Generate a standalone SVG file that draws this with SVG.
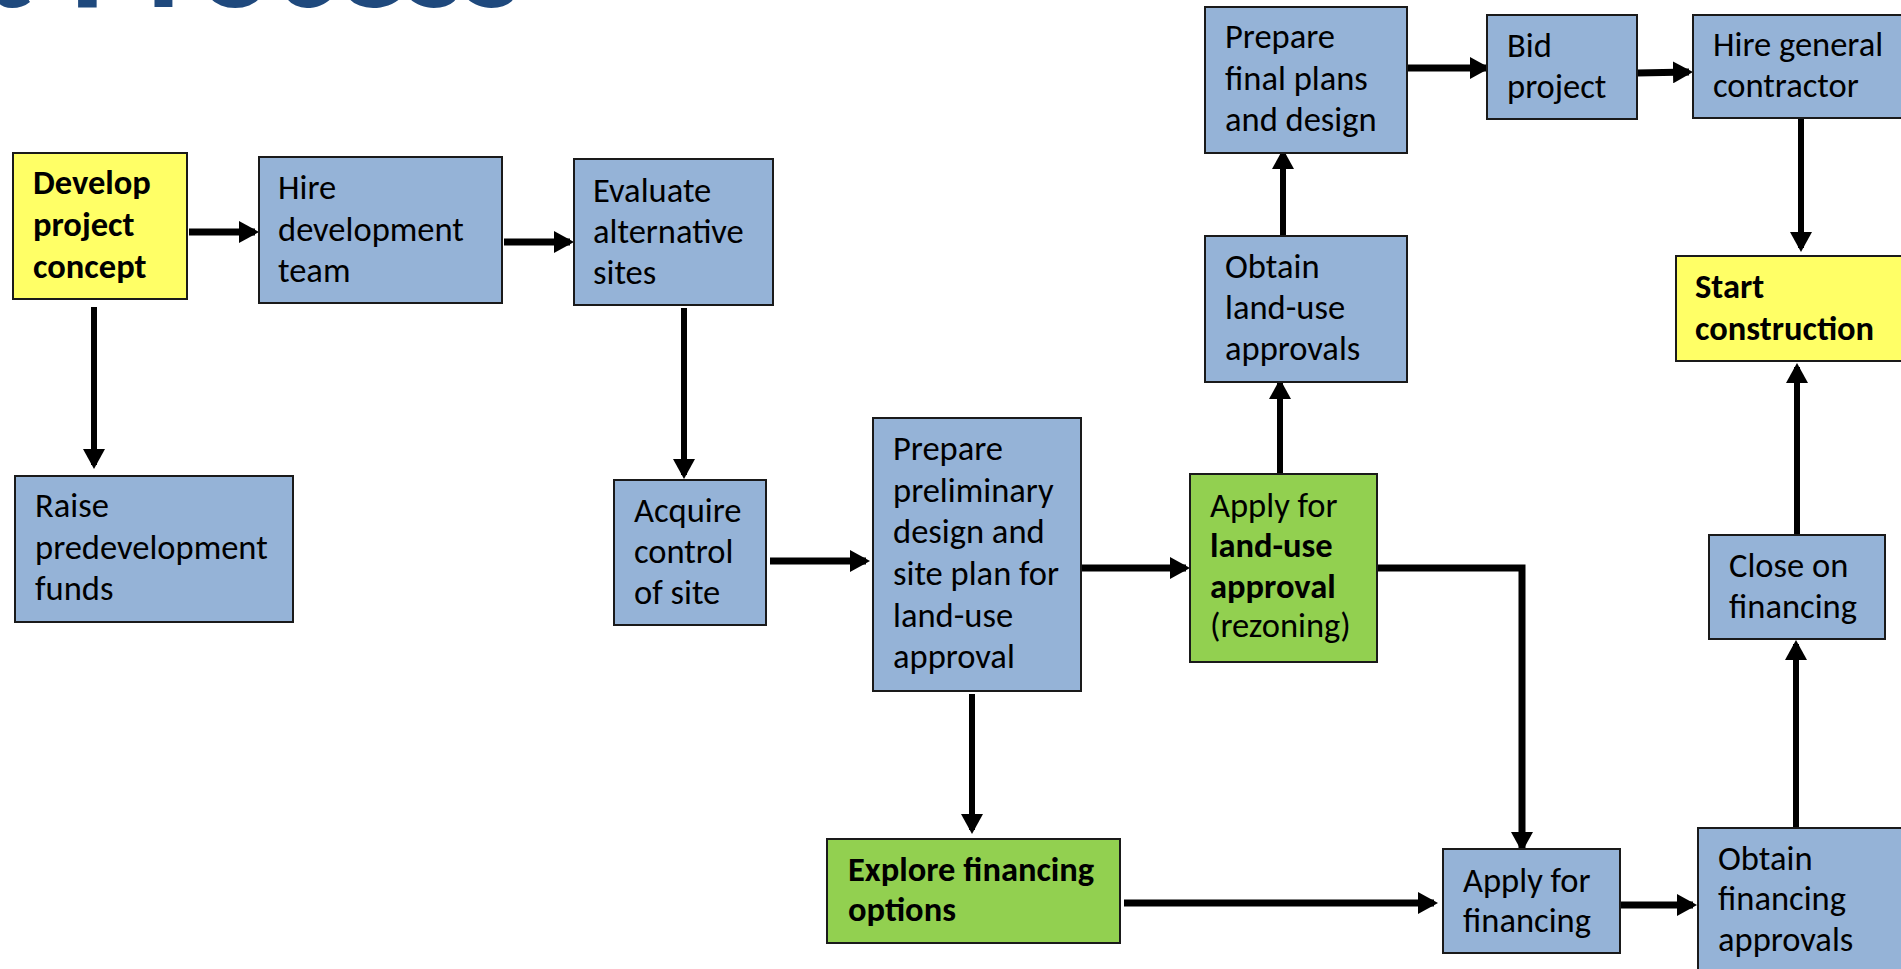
<svg xmlns="http://www.w3.org/2000/svg" width="1901" height="969" viewBox="0 0 1901 969">
<defs>
<style>
.box{stroke:#1a1a1a;stroke-width:2}
.blue{fill:#95B3D7}
.yellow{fill:#FFFF66}
.green{fill:#92D050}
.t{font-family:Carlito,Calibri,Lato,"Liberation Sans",sans-serif;font-size:34.5px;fill:#000}
.b{font-weight:bold}
.c{fill:none;stroke:#000;stroke-width:7}
.v{stroke-width:6}
.title{font-family:Carlito,Calibri,Lato,"Liberation Sans",sans-serif;font-size:143px;font-weight:bold;fill:#1F497D}
</style>
<marker id="ah" markerUnits="userSpaceOnUse" markerWidth="20" markerHeight="22" refX="16" refY="11" orient="auto">
<path d="M0,0 L20,11 L0,22 z" fill="#000"/>
</marker>
</defs>
<rect width="1901" height="969" fill="#fff"/>
<text class="title" x="32" y="7" text-anchor="end">Development</text>
<text class="title" x="70" y="7" textLength="452" lengthAdjust="spacingAndGlyphs">Process</text>

<g id="connectors">
<path class="c" d="M189,232 H255" marker-end="url(#ah)"/>
<path class="c" d="M504,242 H570" marker-end="url(#ah)"/>
<path class="c v" d="M94,307 V465" marker-end="url(#ah)"/>
<path class="c v" d="M684,308 V475" marker-end="url(#ah)"/>
<path class="c" d="M770,561 H866" marker-end="url(#ah)"/>
<path class="c" d="M1081,568 H1186" marker-end="url(#ah)"/>
<path class="c" d="M1377,568 H1522 V848" marker-end="url(#ah)"/>
<path class="c v" d="M1280,474 V383" marker-end="url(#ah)"/>
<path class="c v" d="M1283,243 V153" marker-end="url(#ah)"/>
<path class="c" d="M1388,68 H1486" marker-end="url(#ah)"/>
<path class="c" d="M1637,73 L1689,72" marker-end="url(#ah)"/>
<path class="c v" d="M1801,119 V248" marker-end="url(#ah)"/>
<path class="c v" d="M1797,535 V367" marker-end="url(#ah)"/>
<path class="c v" d="M1796,830 V644" marker-end="url(#ah)"/>
<path class="c v" d="M972,694 V830" marker-end="url(#ah)"/>
<path class="c" d="M1124,903 H1434" marker-end="url(#ah)"/>
<path class="c" d="M1620,905 H1693" marker-end="url(#ah)"/>
</g>

<g id="develop">
<rect class="box yellow" x="13" y="153" width="174" height="146"/>
<text class="t b" x="33"><tspan x="33" y="194">Develop</tspan><tspan x="33" y="236">project</tspan><tspan x="33" y="278">concept</tspan></text>
</g>
<g id="hire-team">
<rect class="box blue" x="259" y="157" width="243" height="146"/>
<text class="t"><tspan x="278" y="199">Hire</tspan><tspan x="278" y="241">development</tspan><tspan x="278" y="282">team</tspan></text>
</g>
<g id="evaluate">
<rect class="box blue" x="574" y="159" width="199" height="146"/>
<text class="t"><tspan x="593" y="202">Evaluate</tspan><tspan x="593" y="243">alternative</tspan><tspan x="593" y="284">sites</tspan></text>
</g>
<g id="raise">
<rect class="box blue" x="15" y="476" width="278" height="146"/>
<text class="t"><tspan x="35" y="517">Raise</tspan><tspan x="35" y="559">predevelopment</tspan><tspan x="35" y="600">funds</tspan></text>
</g>
<g id="acquire">
<rect class="box blue" x="614" y="480" width="152" height="145"/>
<text class="t"><tspan x="634" y="522">Acquire</tspan><tspan x="634" y="563">control</tspan><tspan x="634" y="604">of site</tspan></text>
</g>
<g id="prelim">
<rect class="box blue" x="873" y="418" width="208" height="273"/>
<text class="t"><tspan x="893" y="460">Prepare</tspan><tspan x="893" y="502">preliminary</tspan><tspan x="893" y="543">design and</tspan><tspan x="893" y="585">site plan for</tspan><tspan x="893" y="627">land-use</tspan><tspan x="893" y="668">approval</tspan></text>
</g>
<g id="apply-landuse">
<rect class="box green" x="1190" y="474" width="187" height="188"/>
<text class="t"><tspan x="1210" y="517">Apply for</tspan><tspan x="1210" y="557" class="b">land-use</tspan><tspan x="1210" y="598" class="b">approval</tspan><tspan x="1210" y="637">(rezoning)</tspan></text>
</g>
<g id="obtain-landuse">
<rect class="box blue" x="1205" y="236" width="202" height="146"/>
<text class="t"><tspan x="1225" y="278">Obtain</tspan><tspan x="1225" y="319">land-use</tspan><tspan x="1225" y="360">approvals</tspan></text>
</g>
<g id="final-plans">
<rect class="box blue" x="1205" y="7" width="202" height="146"/>
<text class="t"><tspan x="1225" y="48">Prepare</tspan><tspan x="1225" y="90">final plans</tspan><tspan x="1225" y="131">and design</tspan></text>
</g>
<g id="bid">
<rect class="box blue" x="1487" y="15" width="150" height="104"/>
<text class="t"><tspan x="1507" y="57">Bid</tspan><tspan x="1507" y="98">project</tspan></text>
</g>
<g id="hire-gc">
<rect class="box blue" x="1693" y="15" width="220" height="103"/>
<text class="t"><tspan x="1713" y="56">Hire general</tspan><tspan x="1713" y="97">contractor</tspan></text>
</g>
<g id="start">
<rect class="box yellow" x="1676" y="256" width="240" height="105"/>
<text class="t b"><tspan x="1695" y="298">Start</tspan><tspan x="1695" y="340">construction</tspan></text>
</g>
<g id="close">
<rect class="box blue" x="1709" y="535" width="176" height="104"/>
<text class="t"><tspan x="1729" y="577">Close on</tspan><tspan x="1729" y="618">financing</tspan></text>
</g>
<g id="explore">
<rect class="box green" x="827" y="839" width="293" height="104"/>
<text class="t b"><tspan x="848" y="881">Explore financing</tspan><tspan x="848" y="921">options</tspan></text>
</g>
<g id="apply-fin">
<rect class="box blue" x="1443" y="849" width="177" height="104"/>
<text class="t"><tspan x="1463" y="892">Apply for</tspan><tspan x="1463" y="932">financing</tspan></text>
</g>
<g id="obtain-fin">
<rect class="box blue" x="1698" y="828" width="220" height="160"/>
<text class="t"><tspan x="1718" y="870">Obtain</tspan><tspan x="1718" y="910">financing</tspan><tspan x="1718" y="951">approvals</tspan></text>
</g>
</svg>
